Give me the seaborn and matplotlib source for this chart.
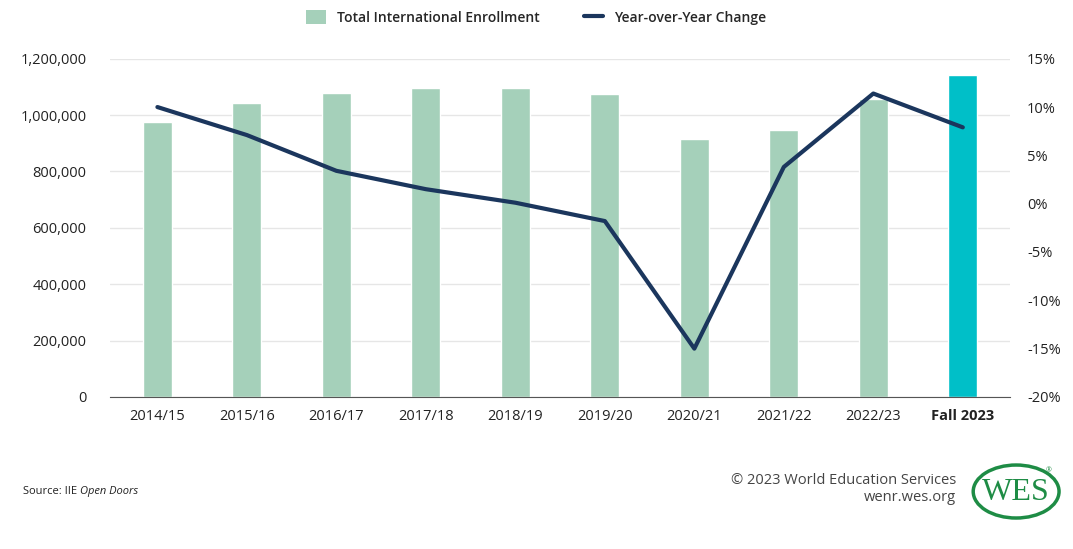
import numpy as np
import pandas as pd
import matplotlib.pyplot as plt
import seaborn as sns
from matplotlib.patches import Patch, Ellipse
from matplotlib.lines import Line2D
from matplotlib.ticker import FuncFormatter

# data
years = ['2014/15', '2015/16', '2016/17', '2017/18', '2018/19',
         '2019/20', '2020/21', '2021/22', '2022/23', 'Fall 2023']
enrollment = [974926, 1043839, 1078822, 1094792, 1095299,
              1075496, 914095, 948519, 1057188, 1142000]
yoy_change = [10.0, 7.1, 3.4, 1.5, 0.1, -1.8, -15.0, 3.8, 11.4, 7.9]

bar_green = '#a5d0ba'
bar_teal = '#00bfc8'
navy = '#1b365d'
text_col = '#222222'

sns.set_style('white')
plt.rcParams['font.family'] = ['Open Sans', 'DejaVu Sans']

df = pd.DataFrame({'year': years, 'enrollment': enrollment, 'change': yoy_change})
df['x'] = np.arange(len(df))
colors = [bar_green] * (len(years) - 1) + [bar_teal]

fig = plt.figure(figsize=(10.73, 5.49), dpi=100)
ax = fig.add_axes([0.1025, 0.277, 0.839, 0.616])

sns.barplot(data=df, x='year', y='enrollment', hue='year', palette=colors,
            legend=False, width=0.325, ax=ax, saturation=1)
ax.set_ylim(0, 1200000)
ax.set_xlim(-0.53, len(years) - 0.47)
ax.set_yticks(np.arange(0, 1200001, 200000))
ax.yaxis.set_major_formatter(FuncFormatter(lambda v, p: f'{int(v):,}'))
ax.grid(axis='y', color='#e6e6e6', lw=1)
ax.set_axisbelow(True)
for s in ['top', 'right', 'left']:
    ax.spines[s].set_visible(False)
ax.spines['bottom'].set_color('#555555')
ax.set_xlabel('')
ax.set_ylabel('')
ax.tick_params(axis='y', length=0, pad=17, labelsize=10.5, labelcolor=text_col)
ax.tick_params(axis='x', length=0, pad=9, labelsize=10.5, labelcolor=text_col)
ax.get_xticklabels()[-1].set_fontweight('bold')

ax2 = ax.twinx()
sns.lineplot(data=df, x='x', y='change', color=navy, lw=3, sort=False, ax=ax2)
ax2.set_ylim(-20, 15)
ax2.set_yticks(np.arange(-20, 16, 5))
ax2.yaxis.set_major_formatter(FuncFormatter(lambda v, p: f'{int(v)}%'))
ax2.tick_params(axis='y', length=0, pad=12, labelsize=10.5, labelcolor=text_col)
ax2.set_ylabel('')
ax2.set_xlabel('')
for s in ax2.spines.values():
    s.set_visible(False)

handles = [Patch(facecolor=bar_green, edgecolor='none'),
           Line2D([0], [0], color=navy, lw=3)]
fig.legend(handles, ['Total International Enrollment', 'Year-over-Year Change'],
           loc='center', bbox_to_anchor=(0.5, 0.968), ncol=2, frameon=False,
           fontsize=10, handlelength=1.4, handleheight=1.2, columnspacing=3.2,
           prop={'weight': 'semibold', 'size': 10})

# source note: italic title right after the plain part
src = fig.text(0.021, 0.105, 'Source: IIE ', fontsize=8, color=text_col, va='center')
fig.canvas.draw()
bb = src.get_window_extent().transformed(fig.transFigure.inverted())
fig.text(bb.x1, 0.105, 'Open Doors', fontsize=8, color=text_col, va='center', style='italic')

fig.text(0.891, 0.124, '\u00a9 2023 World Education Services', fontsize=10.5,
         color='#444444', ha='right', va='center')
fig.text(0.891, 0.094, 'wenr.wes.org', fontsize=10.5, color='#444444',
         ha='right', va='center')

wes_green = '#1e8c45'
logo = Ellipse((0.947, 0.1047), 0.080, 0.0965, transform=fig.transFigure,
               fill=False, edgecolor=wes_green, lw=2.5)
fig.patches.append(logo)
fig.text(0.947, 0.103, 'WES', fontsize=23, color=wes_green, ha='center', va='center',
         family='Liberation Serif')
fig.text(0.977, 0.142, '\u00ae', fontsize=5, color=wes_green, ha='center', va='center')

fig.savefig('out.png', dpi=100)
